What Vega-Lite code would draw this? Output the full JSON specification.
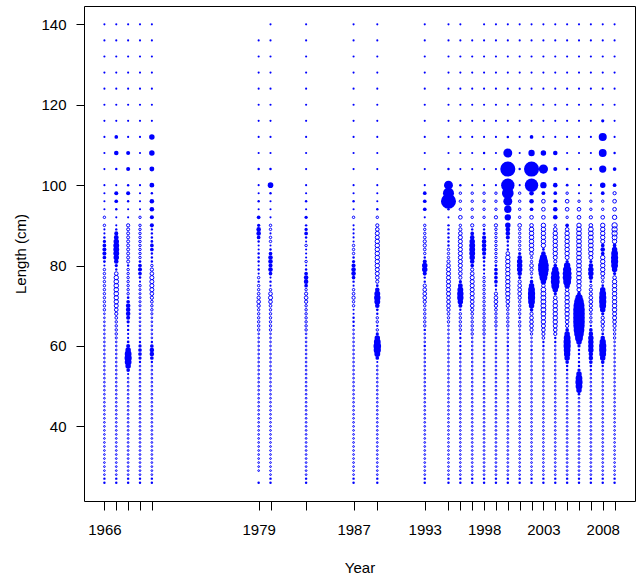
{
"$schema": "https://vega.github.io/schema/vega-lite/v6.json",
"width": 551, "height": 495,
"autosize": "none",
"padding": {"left": 84, "top": 6, "right": 2, "bottom": 81},
"background": "white",
"config": {"view": {"stroke": "black", "strokeWidth": 1}, "font": "Liberation Sans",
 "axis": {"domain": false, "grid": false, "tickColor": "black", "tickWidth": 1, "labelColor": "black", "titleColor": "black", "labelFont": "Liberation Sans", "titleFont": "Liberation Sans", "labelFontSize": 15, "titleFontSize": 15, "titleFontWeight": "normal"}},
"data": {"values": [
{"x":1966,"y":140,"r":2},{"x":1966,"y":136,"r":2},{"x":1966,"y":132,"r":2},{"x":1966,"y":128,"r":2},{"x":1966,"y":124,"r":2},{"x":1966,"y":120,"r":2},{"x":1966,"y":116,"r":2},{"x":1966,"y":112,"r":2},{"x":1966,"y":108,"r":2},{"x":1966,"y":104,"r":2},{"x":1966,"y":100,"r":2},
{"x":1966,"y":98,"r":2},{"x":1966,"y":96,"r":2},{"x":1966,"y":94,"r":2},{"x":1966,"y":92,"r":-3},
{"x":1966,"y":90,"r":-3},{"x":1966,"y":89,"r":2},{"x":1966,"y":88,"r":2},{"x":1966,"y":87,"r":3},{"x":1966,"y":86,"r":6},{"x":1966,"y":85,"r":8},{"x":1966,"y":84,"r":10},{"x":1966,"y":83,"r":10},{"x":1966,"y":82,"r":8},{"x":1966,"y":81,"r":4},{"x":1966,"y":80,"r":2},{"x":1966,"y":79,"r":-3},{"x":1966,"y":78,"r":-3},{"x":1966,"y":77,"r":-3},{"x":1966,"y":76,"r":-3},{"x":1966,"y":75,"r":-3},{"x":1966,"y":74,"r":-3},{"x":1966,"y":73,"r":-3},{"x":1966,"y":72,"r":-3},{"x":1966,"y":71,"r":-3},{"x":1966,"y":70,"r":-3},{"x":1966,"y":69,"r":-3},
{"x":1966,"y":68,"r":-1},{"x":1966,"y":67,"r":-1},{"x":1966,"y":66,"r":-1},{"x":1966,"y":65,"r":-1},{"x":1966,"y":64,"r":-1},{"x":1966,"y":63,"r":-1},{"x":1966,"y":62,"r":-1},{"x":1966,"y":61,"r":-1},{"x":1966,"y":60,"r":-1},{"x":1966,"y":59,"r":-1},{"x":1966,"y":58,"r":-1},{"x":1966,"y":57,"r":-1},{"x":1966,"y":56,"r":-1},{"x":1966,"y":55,"r":-1},{"x":1966,"y":54,"r":-1},{"x":1966,"y":53,"r":-1},{"x":1966,"y":52,"r":-1},{"x":1966,"y":51,"r":-1},{"x":1966,"y":50,"r":-1},{"x":1966,"y":49,"r":-1},{"x":1966,"y":48,"r":-1},{"x":1966,"y":47,"r":-1},{"x":1966,"y":46,"r":-1},{"x":1966,"y":45,"r":-1},{"x":1966,"y":44,"r":-1},{"x":1966,"y":43,"r":-1},{"x":1966,"y":42,"r":-1},{"x":1966,"y":41,"r":-1},{"x":1966,"y":40,"r":-1},{"x":1966,"y":39,"r":-1},{"x":1966,"y":38,"r":-1},{"x":1966,"y":37,"r":-1},{"x":1966,"y":36,"r":-1},{"x":1966,"y":35,"r":-1},{"x":1966,"y":34,"r":-1},{"x":1966,"y":33,"r":-1},{"x":1966,"y":32,"r":-1},{"x":1966,"y":31,"r":-1},{"x":1966,"y":30,"r":-1},{"x":1966,"y":29,"r":-1},{"x":1966,"y":28,"r":-1},{"x":1966,"y":27,"r":3},{"x":1966,"y":26,"r":3},

{"x":1967,"y":140,"r":2},{"x":1967,"y":136,"r":2},{"x":1967,"y":132,"r":2},{"x":1967,"y":128,"r":2},{"x":1967,"y":124,"r":2},{"x":1967,"y":120,"r":2},{"x":1967,"y":116,"r":2},{"x":1967,"y":112,"r":8},{"x":1967,"y":108,"r":13},{"x":1967,"y":104,"r":3},{"x":1967,"y":100,"r":2},
{"x":1967,"y":98,"r":10},{"x":1967,"y":96,"r":8},{"x":1967,"y":94,"r":3},{"x":1967,"y":92,"r":2},
{"x":1967,"y":90,"r":2},{"x":1967,"y":89,"r":3},{"x":1967,"y":88,"r":10},{"x":1967,"y":87,"r":15},{"x":1967,"y":86,"r":19},{"x":1967,"y":85,"r":22},{"x":1967,"y":84,"r":22},{"x":1967,"y":83,"r":22},{"x":1967,"y":82,"r":19},{"x":1967,"y":81,"r":13},{"x":1967,"y":80,"r":6},{"x":1967,"y":79,"r":3},{"x":1967,"y":78,"r":-8},{"x":1967,"y":77,"r":-12},{"x":1967,"y":76,"r":-13},{"x":1967,"y":75,"r":-13},{"x":1967,"y":74,"r":-13},{"x":1967,"y":73,"r":-13},{"x":1967,"y":72,"r":-12},{"x":1967,"y":71,"r":-12},{"x":1967,"y":70,"r":-10},{"x":1967,"y":69,"r":-8},{"x":1967,"y":68,"r":-6},{"x":1967,"y":67,"r":-4},{"x":1967,"y":66,"r":-3},{"x":1967,"y":65,"r":-3},{"x":1967,"y":64,"r":-3},{"x":1967,"y":63,"r":-3},{"x":1967,"y":62,"r":-2},
{"x":1967,"y":61,"r":-1},{"x":1967,"y":60,"r":-1},{"x":1967,"y":59,"r":-1},{"x":1967,"y":58,"r":-1},{"x":1967,"y":57,"r":-1},{"x":1967,"y":56,"r":-1},{"x":1967,"y":55,"r":-1},{"x":1967,"y":54,"r":-1},{"x":1967,"y":53,"r":-1},{"x":1967,"y":52,"r":-1},{"x":1967,"y":51,"r":-1},{"x":1967,"y":50,"r":-1},{"x":1967,"y":49,"r":-1},{"x":1967,"y":48,"r":-1},{"x":1967,"y":47,"r":-1},{"x":1967,"y":46,"r":-1},{"x":1967,"y":45,"r":-1},{"x":1967,"y":44,"r":-1},{"x":1967,"y":43,"r":-1},{"x":1967,"y":42,"r":-1},{"x":1967,"y":41,"r":-1},{"x":1967,"y":40,"r":-1},{"x":1967,"y":39,"r":-1},{"x":1967,"y":38,"r":-1},{"x":1967,"y":37,"r":-1},{"x":1967,"y":36,"r":-1},{"x":1967,"y":35,"r":-1},{"x":1967,"y":34,"r":-1},{"x":1967,"y":33,"r":-1},{"x":1967,"y":32,"r":-1},{"x":1967,"y":31,"r":-1},{"x":1967,"y":30,"r":-1},{"x":1967,"y":29,"r":-1},{"x":1967,"y":28,"r":-1},{"x":1967,"y":27,"r":3},{"x":1967,"y":26,"r":3},

{"x":1968,"y":140,"r":2},{"x":1968,"y":136,"r":2},{"x":1968,"y":132,"r":2},{"x":1968,"y":128,"r":2},{"x":1968,"y":124,"r":2},{"x":1968,"y":120,"r":2},{"x":1968,"y":116,"r":2},{"x":1968,"y":112,"r":2},{"x":1968,"y":108,"r":10},{"x":1968,"y":104,"r":10},{"x":1968,"y":100,"r":3},
{"x":1968,"y":98,"r":10},{"x":1968,"y":96,"r":3},{"x":1968,"y":94,"r":2},{"x":1968,"y":92,"r":2},
{"x":1968,"y":90,"r":-6},{"x":1968,"y":89,"r":-5},{"x":1968,"y":88,"r":-5},{"x":1968,"y":87,"r":-5},{"x":1968,"y":86,"r":-5},{"x":1968,"y":85,"r":-5},{"x":1968,"y":84,"r":-5},{"x":1968,"y":83,"r":-5},{"x":1968,"y":82,"r":-5},{"x":1968,"y":81,"r":-5},{"x":1968,"y":80,"r":3},{"x":1968,"y":79,"r":-3},{"x":1968,"y":78,"r":-3},{"x":1968,"y":77,"r":-3},{"x":1968,"y":76,"r":-3},{"x":1968,"y":75,"r":-3},{"x":1968,"y":74,"r":-3},{"x":1968,"y":73,"r":-3},{"x":1968,"y":72,"r":4},{"x":1968,"y":71,"r":8},{"x":1968,"y":70,"r":13},{"x":1968,"y":69,"r":13},{"x":1968,"y":68,"r":13},{"x":1968,"y":67,"r":10},{"x":1968,"y":66,"r":6},{"x":1968,"y":65,"r":3},{"x":1968,"y":64,"r":3},{"x":1968,"y":63,"r":2},{"x":1968,"y":62,"r":2},{"x":1968,"y":61,"r":4},{"x":1968,"y":60,"r":10},{"x":1968,"y":59,"r":19},{"x":1968,"y":58,"r":30},{"x":1968,"y":57,"r":34},{"x":1968,"y":56,"r":30},{"x":1968,"y":55,"r":19},{"x":1968,"y":54,"r":8},{"x":1968,"y":53,"r":2},
{"x":1968,"y":52,"r":-1},{"x":1968,"y":51,"r":-1},{"x":1968,"y":50,"r":-1},{"x":1968,"y":49,"r":-1},{"x":1968,"y":48,"r":-1},{"x":1968,"y":47,"r":-1},{"x":1968,"y":46,"r":-1},{"x":1968,"y":45,"r":-1},{"x":1968,"y":44,"r":-1},{"x":1968,"y":43,"r":-1},{"x":1968,"y":42,"r":-1},{"x":1968,"y":41,"r":-1},{"x":1968,"y":40,"r":-1},{"x":1968,"y":39,"r":-1},{"x":1968,"y":38,"r":-1},{"x":1968,"y":37,"r":-1},{"x":1968,"y":36,"r":-1},{"x":1968,"y":35,"r":-1},{"x":1968,"y":34,"r":-1},{"x":1968,"y":33,"r":-1},{"x":1968,"y":32,"r":-1},{"x":1968,"y":31,"r":-1},{"x":1968,"y":30,"r":-1},{"x":1968,"y":29,"r":-1},{"x":1968,"y":28,"r":-1},{"x":1968,"y":27,"r":3},{"x":1968,"y":26,"r":3},

{"x":1969,"y":140,"r":2},{"x":1969,"y":136,"r":2},{"x":1969,"y":132,"r":2},{"x":1969,"y":128,"r":2},{"x":1969,"y":124,"r":2},{"x":1969,"y":120,"r":2},{"x":1969,"y":116,"r":2},{"x":1969,"y":112,"r":2},{"x":1969,"y":108,"r":2},{"x":1969,"y":104,"r":2},{"x":1969,"y":100,"r":2},
{"x":1969,"y":98,"r":2},{"x":1969,"y":96,"r":2},{"x":1969,"y":94,"r":2},{"x":1969,"y":92,"r":-3},
{"x":1969,"y":90,"r":-3},{"x":1969,"y":89,"r":-3},{"x":1969,"y":88,"r":-3},{"x":1969,"y":87,"r":-3},{"x":1969,"y":86,"r":-3},{"x":1969,"y":85,"r":-3},{"x":1969,"y":84,"r":-3},{"x":1969,"y":83,"r":-3},{"x":1969,"y":82,"r":-3},{"x":1969,"y":81,"r":4},{"x":1969,"y":80,"r":8},{"x":1969,"y":79,"r":10},{"x":1969,"y":78,"r":8},{"x":1969,"y":77,"r":4},{"x":1969,"y":76,"r":2},{"x":1969,"y":75,"r":-3},{"x":1969,"y":74,"r":-2},{"x":1969,"y":73,"r":-2},{"x":1969,"y":72,"r":-2},{"x":1969,"y":71,"r":-2},{"x":1969,"y":70,"r":-2},{"x":1969,"y":69,"r":-1},{"x":1969,"y":68,"r":-1},{"x":1969,"y":67,"r":-1},{"x":1969,"y":66,"r":-1},{"x":1969,"y":65,"r":-1},{"x":1969,"y":64,"r":-1},{"x":1969,"y":63,"r":-1},{"x":1969,"y":62,"r":-1},{"x":1969,"y":61,"r":3},{"x":1969,"y":60,"r":6},{"x":1969,"y":59,"r":8},{"x":1969,"y":58,"r":8},{"x":1969,"y":57,"r":6},{"x":1969,"y":56,"r":3},
{"x":1969,"y":55,"r":-1},{"x":1969,"y":54,"r":-1},{"x":1969,"y":53,"r":-1},{"x":1969,"y":52,"r":-1},{"x":1969,"y":51,"r":-1},{"x":1969,"y":50,"r":-1},{"x":1969,"y":49,"r":-1},{"x":1969,"y":48,"r":-1},{"x":1969,"y":47,"r":-1},{"x":1969,"y":46,"r":-1},{"x":1969,"y":45,"r":-1},{"x":1969,"y":44,"r":-1},{"x":1969,"y":43,"r":-1},{"x":1969,"y":42,"r":-1},{"x":1969,"y":41,"r":-1},{"x":1969,"y":40,"r":-1},{"x":1969,"y":39,"r":-1},{"x":1969,"y":38,"r":-1},{"x":1969,"y":37,"r":-1},{"x":1969,"y":36,"r":-1},{"x":1969,"y":35,"r":-1},{"x":1969,"y":34,"r":-1},{"x":1969,"y":33,"r":-1},{"x":1969,"y":32,"r":-1},{"x":1969,"y":31,"r":-1},{"x":1969,"y":30,"r":-1},{"x":1969,"y":29,"r":-1},{"x":1969,"y":28,"r":-1},{"x":1969,"y":27,"r":3},{"x":1969,"y":26,"r":3},

{"x":1970,"y":140,"r":2},{"x":1970,"y":136,"r":2},{"x":1970,"y":132,"r":2},{"x":1970,"y":128,"r":2},{"x":1970,"y":124,"r":2},{"x":1970,"y":120,"r":2},{"x":1970,"y":116,"r":2},{"x":1970,"y":112,"r":19},{"x":1970,"y":108,"r":19},{"x":1970,"y":104,"r":15},{"x":1970,"y":100,"r":15},
{"x":1970,"y":98,"r":3},{"x":1970,"y":96,"r":13},{"x":1970,"y":94,"r":13},{"x":1970,"y":92,"r":10},
{"x":1970,"y":90,"r":10},{"x":1970,"y":89,"r":3},{"x":1970,"y":88,"r":3},{"x":1970,"y":87,"r":3},{"x":1970,"y":86,"r":4},{"x":1970,"y":85,"r":8},{"x":1970,"y":84,"r":8},{"x":1970,"y":83,"r":3},{"x":1970,"y":82,"r":3},{"x":1970,"y":81,"r":3},{"x":1970,"y":80,"r":-3},{"x":1970,"y":79,"r":-6},{"x":1970,"y":78,"r":-8},{"x":1970,"y":77,"r":-10},{"x":1970,"y":76,"r":-10},{"x":1970,"y":75,"r":-10},{"x":1970,"y":74,"r":-10},{"x":1970,"y":73,"r":-8},{"x":1970,"y":72,"r":-6},{"x":1970,"y":71,"r":-4},{"x":1970,"y":70,"r":-3},{"x":1970,"y":69,"r":-3},{"x":1970,"y":68,"r":-2},{"x":1970,"y":67,"r":-1},{"x":1970,"y":66,"r":-1},{"x":1970,"y":65,"r":-1},{"x":1970,"y":64,"r":-1},{"x":1970,"y":63,"r":-1},{"x":1970,"y":62,"r":-1},{"x":1970,"y":61,"r":3},{"x":1970,"y":60,"r":8},{"x":1970,"y":59,"r":13},{"x":1970,"y":58,"r":13},{"x":1970,"y":57,"r":8},{"x":1970,"y":56,"r":3},
{"x":1970,"y":55,"r":-1},{"x":1970,"y":54,"r":-1},{"x":1970,"y":53,"r":-1},{"x":1970,"y":52,"r":-1},{"x":1970,"y":51,"r":-1},{"x":1970,"y":50,"r":-1},{"x":1970,"y":49,"r":-1},{"x":1970,"y":48,"r":-1},{"x":1970,"y":47,"r":-1},{"x":1970,"y":46,"r":-1},{"x":1970,"y":45,"r":-1},{"x":1970,"y":44,"r":-1},{"x":1970,"y":43,"r":-1},{"x":1970,"y":42,"r":-1},{"x":1970,"y":41,"r":-1},{"x":1970,"y":40,"r":-1},{"x":1970,"y":39,"r":-1},{"x":1970,"y":38,"r":-1},{"x":1970,"y":37,"r":-1},{"x":1970,"y":36,"r":-1},{"x":1970,"y":35,"r":-1},{"x":1970,"y":34,"r":-1},{"x":1970,"y":33,"r":-1},{"x":1970,"y":32,"r":-1},{"x":1970,"y":31,"r":-1},{"x":1970,"y":30,"r":-1},{"x":1970,"y":29,"r":-1},{"x":1970,"y":28,"r":-1},{"x":1970,"y":27,"r":3},{"x":1970,"y":26,"r":3},

{"x":1979,"y":136,"r":2},{"x":1979,"y":132,"r":2},{"x":1979,"y":128,"r":2},{"x":1979,"y":124,"r":2},{"x":1979,"y":120,"r":2},{"x":1979,"y":116,"r":2},{"x":1979,"y":112,"r":2},{"x":1979,"y":108,"r":2},{"x":1979,"y":104,"r":3},{"x":1979,"y":100,"r":2},
{"x":1979,"y":98,"r":2},{"x":1979,"y":96,"r":3},{"x":1979,"y":94,"r":2},{"x":1979,"y":92,"r":8},
{"x":1979,"y":90,"r":6},{"x":1979,"y":89,"r":13},{"x":1979,"y":88,"r":13},{"x":1979,"y":87,"r":8},{"x":1979,"y":86,"r":3},{"x":1979,"y":85,"r":2},{"x":1979,"y":84,"r":2},{"x":1979,"y":83,"r":3},{"x":1979,"y":82,"r":3},{"x":1979,"y":81,"r":3},{"x":1979,"y":80,"r":2},{"x":1979,"y":79,"r":3},{"x":1979,"y":78,"r":2},{"x":1979,"y":77,"r":-3},{"x":1979,"y":76,"r":3},{"x":1979,"y":75,"r":-3},{"x":1979,"y":74,"r":-3},{"x":1979,"y":73,"r":-4},{"x":1979,"y":72,"r":-6},{"x":1979,"y":71,"r":-8},{"x":1979,"y":70,"r":-6},{"x":1979,"y":69,"r":-3},{"x":1979,"y":68,"r":-3},{"x":1979,"y":67,"r":-3},{"x":1979,"y":66,"r":-3},{"x":1979,"y":65,"r":-3},{"x":1979,"y":64,"r":-3},
{"x":1979,"y":63,"r":-1},{"x":1979,"y":62,"r":-1},{"x":1979,"y":61,"r":-1},{"x":1979,"y":60,"r":-1},{"x":1979,"y":59,"r":-1},{"x":1979,"y":58,"r":-1},{"x":1979,"y":57,"r":-1},{"x":1979,"y":56,"r":-1},{"x":1979,"y":55,"r":-1},{"x":1979,"y":54,"r":-1},{"x":1979,"y":53,"r":-1},{"x":1979,"y":52,"r":-1},{"x":1979,"y":51,"r":-1},{"x":1979,"y":50,"r":-1},{"x":1979,"y":49,"r":-1},{"x":1979,"y":48,"r":-1},{"x":1979,"y":47,"r":-1},{"x":1979,"y":46,"r":-1},{"x":1979,"y":45,"r":-1},{"x":1979,"y":44,"r":-1},{"x":1979,"y":43,"r":-1},{"x":1979,"y":42,"r":-1},{"x":1979,"y":41,"r":-1},{"x":1979,"y":40,"r":-1},{"x":1979,"y":39,"r":-1},{"x":1979,"y":38,"r":-1},{"x":1979,"y":37,"r":-1},{"x":1979,"y":36,"r":-1},{"x":1979,"y":35,"r":-1},{"x":1979,"y":34,"r":-1},{"x":1979,"y":33,"r":-1},{"x":1979,"y":32,"r":-1},{"x":1979,"y":31,"r":-1},{"x":1979,"y":30,"r":-1},{"x":1979,"y":29,"r":-1},{"x":1979,"y":26,"r":3},

{"x":1980,"y":140,"r":2},{"x":1980,"y":136,"r":2},{"x":1980,"y":132,"r":2},{"x":1980,"y":128,"r":2},{"x":1980,"y":124,"r":2},{"x":1980,"y":120,"r":2},{"x":1980,"y":116,"r":2},{"x":1980,"y":112,"r":2},{"x":1980,"y":108,"r":2},{"x":1980,"y":104,"r":3},{"x":1980,"y":100,"r":20},
{"x":1980,"y":98,"r":3},{"x":1980,"y":96,"r":2},{"x":1980,"y":94,"r":2},{"x":1980,"y":92,"r":2},
{"x":1980,"y":90,"r":-3},{"x":1980,"y":89,"r":-3},{"x":1980,"y":88,"r":2},{"x":1980,"y":87,"r":-3},{"x":1980,"y":86,"r":-3},{"x":1980,"y":85,"r":2},{"x":1980,"y":84,"r":3},{"x":1980,"y":83,"r":8},{"x":1980,"y":82,"r":13},{"x":1980,"y":81,"r":13},{"x":1980,"y":80,"r":10},{"x":1980,"y":79,"r":13},{"x":1980,"y":78,"r":8},{"x":1980,"y":77,"r":2},{"x":1980,"y":76,"r":3},{"x":1980,"y":75,"r":2},{"x":1980,"y":74,"r":-3},{"x":1980,"y":73,"r":-8},{"x":1980,"y":72,"r":-10},{"x":1980,"y":71,"r":-8},{"x":1980,"y":70,"r":-4},{"x":1980,"y":69,"r":-3},{"x":1980,"y":68,"r":-3},{"x":1980,"y":67,"r":-3},{"x":1980,"y":66,"r":-3},{"x":1980,"y":65,"r":-3},{"x":1980,"y":64,"r":-3},
{"x":1980,"y":63,"r":-1},{"x":1980,"y":62,"r":-1},{"x":1980,"y":61,"r":-1},{"x":1980,"y":60,"r":-1},{"x":1980,"y":59,"r":-1},{"x":1980,"y":58,"r":-1},{"x":1980,"y":57,"r":-1},{"x":1980,"y":56,"r":-1},{"x":1980,"y":55,"r":-1},{"x":1980,"y":54,"r":-1},{"x":1980,"y":53,"r":-1},{"x":1980,"y":52,"r":-1},{"x":1980,"y":51,"r":-1},{"x":1980,"y":50,"r":-1},{"x":1980,"y":49,"r":-1},{"x":1980,"y":48,"r":-1},{"x":1980,"y":47,"r":-1},{"x":1980,"y":46,"r":-1},{"x":1980,"y":45,"r":-1},{"x":1980,"y":44,"r":-1},{"x":1980,"y":43,"r":-1},{"x":1980,"y":42,"r":-1},{"x":1980,"y":41,"r":-1},{"x":1980,"y":40,"r":-1},{"x":1980,"y":39,"r":-1},{"x":1980,"y":38,"r":-1},{"x":1980,"y":37,"r":-1},{"x":1980,"y":36,"r":-1},{"x":1980,"y":35,"r":-1},{"x":1980,"y":34,"r":-1},{"x":1980,"y":33,"r":-1},{"x":1980,"y":32,"r":-1},{"x":1980,"y":31,"r":-1},{"x":1980,"y":30,"r":-1},{"x":1980,"y":29,"r":-1},{"x":1980,"y":28,"r":-1},{"x":1980,"y":27,"r":3},{"x":1980,"y":26,"r":3},

{"x":1983,"y":140,"r":2},{"x":1983,"y":136,"r":2},{"x":1983,"y":132,"r":2},{"x":1983,"y":128,"r":2},{"x":1983,"y":124,"r":2},{"x":1983,"y":120,"r":2},{"x":1983,"y":116,"r":2},{"x":1983,"y":112,"r":2},{"x":1983,"y":108,"r":2},{"x":1983,"y":104,"r":2},{"x":1983,"y":100,"r":2},
{"x":1983,"y":98,"r":2},{"x":1983,"y":96,"r":3},{"x":1983,"y":94,"r":2},{"x":1983,"y":92,"r":6},
{"x":1983,"y":90,"r":3},{"x":1983,"y":89,"r":6},{"x":1983,"y":88,"r":8},{"x":1983,"y":87,"r":3},{"x":1983,"y":86,"r":2},{"x":1983,"y":85,"r":-3},{"x":1983,"y":84,"r":2},{"x":1983,"y":83,"r":2},{"x":1983,"y":82,"r":2},{"x":1983,"y":81,"r":-3},{"x":1983,"y":80,"r":2},{"x":1983,"y":79,"r":3},{"x":1983,"y":78,"r":8},{"x":1983,"y":77,"r":13},{"x":1983,"y":76,"r":13},{"x":1983,"y":75,"r":8},{"x":1983,"y":74,"r":-3},{"x":1983,"y":73,"r":-6},{"x":1983,"y":72,"r":-8},{"x":1983,"y":71,"r":-6},{"x":1983,"y":70,"r":-3},{"x":1983,"y":69,"r":-3},{"x":1983,"y":68,"r":-3},{"x":1983,"y":67,"r":-3},{"x":1983,"y":66,"r":-3},{"x":1983,"y":65,"r":-3},{"x":1983,"y":64,"r":-3},
{"x":1983,"y":63,"r":-1},{"x":1983,"y":62,"r":-1},{"x":1983,"y":61,"r":-1},{"x":1983,"y":60,"r":-1},{"x":1983,"y":59,"r":-1},{"x":1983,"y":58,"r":-1},{"x":1983,"y":57,"r":-1},{"x":1983,"y":56,"r":-1},{"x":1983,"y":55,"r":-1},{"x":1983,"y":54,"r":-1},{"x":1983,"y":53,"r":-1},{"x":1983,"y":52,"r":-1},{"x":1983,"y":51,"r":-1},{"x":1983,"y":50,"r":-1},{"x":1983,"y":49,"r":-1},{"x":1983,"y":48,"r":-1},{"x":1983,"y":47,"r":-1},{"x":1983,"y":46,"r":-1},{"x":1983,"y":45,"r":-1},{"x":1983,"y":44,"r":-1},{"x":1983,"y":43,"r":-1},{"x":1983,"y":42,"r":-1},{"x":1983,"y":41,"r":-1},{"x":1983,"y":40,"r":-1},{"x":1983,"y":39,"r":-1},{"x":1983,"y":38,"r":-1},{"x":1983,"y":37,"r":-1},{"x":1983,"y":36,"r":-1},{"x":1983,"y":35,"r":-1},{"x":1983,"y":34,"r":-1},{"x":1983,"y":33,"r":-1},{"x":1983,"y":32,"r":-1},{"x":1983,"y":31,"r":-1},{"x":1983,"y":30,"r":-1},{"x":1983,"y":29,"r":-1},{"x":1983,"y":28,"r":-1},{"x":1983,"y":27,"r":3},{"x":1983,"y":26,"r":3},

{"x":1987,"y":140,"r":2},{"x":1987,"y":136,"r":2},{"x":1987,"y":132,"r":2},{"x":1987,"y":128,"r":2},{"x":1987,"y":124,"r":2},{"x":1987,"y":120,"r":2},{"x":1987,"y":116,"r":2},{"x":1987,"y":112,"r":2},{"x":1987,"y":108,"r":2},{"x":1987,"y":104,"r":2},{"x":1987,"y":100,"r":2},
{"x":1987,"y":98,"r":2},{"x":1987,"y":96,"r":3},{"x":1987,"y":94,"r":2},{"x":1987,"y":92,"r":-3},
{"x":1987,"y":90,"r":2},{"x":1987,"y":89,"r":2},{"x":1987,"y":88,"r":2},{"x":1987,"y":87,"r":2},{"x":1987,"y":86,"r":2},{"x":1987,"y":85,"r":-3},{"x":1987,"y":84,"r":-3},{"x":1987,"y":83,"r":-3},{"x":1987,"y":82,"r":3},{"x":1987,"y":81,"r":6},{"x":1987,"y":80,"r":10},{"x":1987,"y":79,"r":13},{"x":1987,"y":78,"r":13},{"x":1987,"y":77,"r":8},{"x":1987,"y":76,"r":3},{"x":1987,"y":75,"r":2},{"x":1987,"y":74,"r":-3},{"x":1987,"y":73,"r":-4},{"x":1987,"y":72,"r":-6},{"x":1987,"y":71,"r":-3},{"x":1987,"y":70,"r":-3},{"x":1987,"y":69,"r":2},{"x":1987,"y":68,"r":2},{"x":1987,"y":67,"r":3},{"x":1987,"y":66,"r":3},{"x":1987,"y":65,"r":3},
{"x":1987,"y":64,"r":-1},{"x":1987,"y":63,"r":-1},{"x":1987,"y":62,"r":-1},{"x":1987,"y":61,"r":-1},{"x":1987,"y":60,"r":-1},{"x":1987,"y":59,"r":-1},{"x":1987,"y":58,"r":-1},{"x":1987,"y":57,"r":-1},{"x":1987,"y":56,"r":-1},{"x":1987,"y":55,"r":-1},{"x":1987,"y":54,"r":-1},{"x":1987,"y":53,"r":-1},{"x":1987,"y":52,"r":-1},{"x":1987,"y":51,"r":-1},{"x":1987,"y":50,"r":-1},{"x":1987,"y":49,"r":-1},{"x":1987,"y":48,"r":-1},{"x":1987,"y":47,"r":-1},{"x":1987,"y":46,"r":-1},{"x":1987,"y":45,"r":-1},{"x":1987,"y":44,"r":-1},{"x":1987,"y":43,"r":-1},{"x":1987,"y":42,"r":-1},{"x":1987,"y":41,"r":-1},{"x":1987,"y":40,"r":-1},{"x":1987,"y":39,"r":-1},{"x":1987,"y":38,"r":-1},{"x":1987,"y":37,"r":-1},{"x":1987,"y":36,"r":-1},{"x":1987,"y":35,"r":-1},{"x":1987,"y":34,"r":-1},{"x":1987,"y":33,"r":-1},{"x":1987,"y":32,"r":-1},{"x":1987,"y":31,"r":-1},{"x":1987,"y":30,"r":-1},{"x":1987,"y":29,"r":-1},{"x":1987,"y":28,"r":-1},{"x":1987,"y":27,"r":3},{"x":1987,"y":26,"r":3},

{"x":1989,"y":140,"r":2},{"x":1989,"y":136,"r":2},{"x":1989,"y":132,"r":2},{"x":1989,"y":128,"r":2},{"x":1989,"y":124,"r":2},{"x":1989,"y":120,"r":2},{"x":1989,"y":116,"r":2},{"x":1989,"y":112,"r":2},{"x":1989,"y":108,"r":2},{"x":1989,"y":104,"r":2},{"x":1989,"y":100,"r":2},
{"x":1989,"y":98,"r":2},{"x":1989,"y":96,"r":2},{"x":1989,"y":94,"r":3},{"x":1989,"y":92,"r":-3},
{"x":1989,"y":90,"r":-6},{"x":1989,"y":89,"r":-8},{"x":1989,"y":88,"r":-10},{"x":1989,"y":87,"r":-10},{"x":1989,"y":86,"r":-12},{"x":1989,"y":85,"r":-12},{"x":1989,"y":84,"r":-12},{"x":1989,"y":83,"r":-12},{"x":1989,"y":82,"r":-12},{"x":1989,"y":81,"r":-12},{"x":1989,"y":80,"r":-12},{"x":1989,"y":79,"r":-10},{"x":1989,"y":78,"r":-10},{"x":1989,"y":77,"r":-8},{"x":1989,"y":76,"r":-6},{"x":1989,"y":75,"r":4},{"x":1989,"y":74,"r":13},{"x":1989,"y":73,"r":22},{"x":1989,"y":72,"r":26},{"x":1989,"y":71,"r":22},{"x":1989,"y":70,"r":13},{"x":1989,"y":69,"r":4},{"x":1989,"y":68,"r":3},{"x":1989,"y":67,"r":-3},{"x":1989,"y":66,"r":-3},{"x":1989,"y":65,"r":3},{"x":1989,"y":64,"r":-3},{"x":1989,"y":63,"r":6},{"x":1989,"y":62,"r":19},{"x":1989,"y":61,"r":30},{"x":1989,"y":60,"r":38},{"x":1989,"y":59,"r":34},{"x":1989,"y":58,"r":22},{"x":1989,"y":57,"r":8},{"x":1989,"y":56,"r":2},
{"x":1989,"y":55,"r":-1},{"x":1989,"y":54,"r":-1},{"x":1989,"y":53,"r":-1},{"x":1989,"y":52,"r":-1},{"x":1989,"y":51,"r":-1},{"x":1989,"y":50,"r":-1},{"x":1989,"y":49,"r":-1},{"x":1989,"y":48,"r":-1},{"x":1989,"y":47,"r":-1},{"x":1989,"y":46,"r":-1},{"x":1989,"y":45,"r":-1},{"x":1989,"y":44,"r":-1},{"x":1989,"y":43,"r":-1},{"x":1989,"y":42,"r":-1},{"x":1989,"y":41,"r":-1},{"x":1989,"y":40,"r":-1},{"x":1989,"y":39,"r":-1},{"x":1989,"y":38,"r":-1},{"x":1989,"y":37,"r":-1},{"x":1989,"y":36,"r":-1},{"x":1989,"y":35,"r":-1},{"x":1989,"y":34,"r":-1},{"x":1989,"y":33,"r":-1},{"x":1989,"y":32,"r":-1},{"x":1989,"y":31,"r":-1},{"x":1989,"y":30,"r":-1},{"x":1989,"y":29,"r":-1},{"x":1989,"y":28,"r":-1},{"x":1989,"y":27,"r":3},{"x":1989,"y":26,"r":3},

{"x":1993,"y":140,"r":2},{"x":1993,"y":136,"r":2},{"x":1993,"y":132,"r":2},{"x":1993,"y":128,"r":2},{"x":1993,"y":124,"r":2},{"x":1993,"y":120,"r":2},{"x":1993,"y":116,"r":2},{"x":1993,"y":112,"r":2},{"x":1993,"y":108,"r":2},{"x":1993,"y":104,"r":2},{"x":1993,"y":100,"r":2},
{"x":1993,"y":98,"r":8},{"x":1993,"y":96,"r":8},{"x":1993,"y":94,"r":8},{"x":1993,"y":92,"r":2},
{"x":1993,"y":90,"r":-3},{"x":1993,"y":89,"r":-3},{"x":1993,"y":88,"r":-3},{"x":1993,"y":87,"r":-4},{"x":1993,"y":86,"r":-6},{"x":1993,"y":85,"r":-6},{"x":1993,"y":84,"r":-4},{"x":1993,"y":83,"r":-3},{"x":1993,"y":82,"r":3},{"x":1993,"y":81,"r":10},{"x":1993,"y":80,"r":19},{"x":1993,"y":79,"r":19},{"x":1993,"y":78,"r":10},{"x":1993,"y":77,"r":3},{"x":1993,"y":76,"r":3},{"x":1993,"y":75,"r":-6},{"x":1993,"y":74,"r":-8},{"x":1993,"y":73,"r":-8},{"x":1993,"y":72,"r":-8},{"x":1993,"y":71,"r":-6},{"x":1993,"y":70,"r":-3},{"x":1993,"y":69,"r":-3},{"x":1993,"y":68,"r":-3},{"x":1993,"y":67,"r":-3},{"x":1993,"y":66,"r":-3},{"x":1993,"y":65,"r":-3},{"x":1993,"y":64,"r":3},{"x":1993,"y":63,"r":-1},{"x":1993,"y":62,"r":-1},{"x":1993,"y":61,"r":-1},{"x":1993,"y":60,"r":3},
{"x":1993,"y":59,"r":-1},{"x":1993,"y":58,"r":-1},{"x":1993,"y":57,"r":-1},{"x":1993,"y":56,"r":-1},{"x":1993,"y":55,"r":-1},{"x":1993,"y":54,"r":-1},{"x":1993,"y":53,"r":-1},{"x":1993,"y":52,"r":-1},{"x":1993,"y":51,"r":-1},{"x":1993,"y":50,"r":-1},{"x":1993,"y":49,"r":-1},{"x":1993,"y":48,"r":-1},{"x":1993,"y":47,"r":-1},{"x":1993,"y":46,"r":-1},{"x":1993,"y":45,"r":-1},{"x":1993,"y":44,"r":-1},{"x":1993,"y":43,"r":-1},{"x":1993,"y":42,"r":-1},{"x":1993,"y":41,"r":-1},{"x":1993,"y":40,"r":-1},{"x":1993,"y":39,"r":-1},{"x":1993,"y":38,"r":-1},{"x":1993,"y":37,"r":-1},{"x":1993,"y":36,"r":-1},{"x":1993,"y":35,"r":-1},{"x":1993,"y":34,"r":-1},{"x":1993,"y":33,"r":-1},{"x":1993,"y":32,"r":-1},{"x":1993,"y":31,"r":-1},{"x":1993,"y":30,"r":-1},{"x":1993,"y":29,"r":-1},{"x":1993,"y":28,"r":-1},{"x":1993,"y":27,"r":3},{"x":1993,"y":26,"r":3},

{"x":1995,"y":140,"r":2},{"x":1995,"y":136,"r":2},{"x":1995,"y":132,"r":2},{"x":1995,"y":128,"r":2},{"x":1995,"y":124,"r":2},{"x":1995,"y":120,"r":2},{"x":1995,"y":116,"r":2},{"x":1995,"y":112,"r":2},{"x":1995,"y":108,"r":2},{"x":1995,"y":104,"r":3},{"x":1995,"y":100,"r":52},
{"x":1995,"y":98,"r":80},{"x":1995,"y":96,"r":150},{"x":1995,"y":94,"r":3},{"x":1995,"y":92,"r":2},
{"x":1995,"y":90,"r":3},{"x":1995,"y":89,"r":3},{"x":1995,"y":88,"r":3},{"x":1995,"y":87,"r":3},{"x":1995,"y":86,"r":3},{"x":1995,"y":85,"r":3},{"x":1995,"y":84,"r":-3},{"x":1995,"y":83,"r":-3},{"x":1995,"y":82,"r":-3},{"x":1995,"y":81,"r":-6},{"x":1995,"y":80,"r":-8},{"x":1995,"y":79,"r":-10},{"x":1995,"y":78,"r":-10},{"x":1995,"y":77,"r":-10},{"x":1995,"y":76,"r":-10},{"x":1995,"y":75,"r":-10},{"x":1995,"y":74,"r":-10},{"x":1995,"y":73,"r":-10},{"x":1995,"y":72,"r":-8},{"x":1995,"y":71,"r":-8},{"x":1995,"y":70,"r":-8},{"x":1995,"y":69,"r":-6},{"x":1995,"y":68,"r":-4},{"x":1995,"y":67,"r":-3},{"x":1995,"y":66,"r":-3},
{"x":1995,"y":65,"r":-1},{"x":1995,"y":64,"r":-1},{"x":1995,"y":63,"r":-1},{"x":1995,"y":62,"r":-1},{"x":1995,"y":61,"r":-1},{"x":1995,"y":60,"r":-1},{"x":1995,"y":59,"r":-1},{"x":1995,"y":58,"r":-1},{"x":1995,"y":57,"r":-1},{"x":1995,"y":56,"r":-1},{"x":1995,"y":55,"r":-1},{"x":1995,"y":54,"r":-1},{"x":1995,"y":53,"r":-1},{"x":1995,"y":52,"r":-1},{"x":1995,"y":51,"r":-1},{"x":1995,"y":50,"r":-1},{"x":1995,"y":49,"r":-1},{"x":1995,"y":48,"r":-1},{"x":1995,"y":47,"r":-1},{"x":1995,"y":46,"r":-1},{"x":1995,"y":45,"r":-1},{"x":1995,"y":44,"r":-1},{"x":1995,"y":43,"r":-1},{"x":1995,"y":42,"r":-1},{"x":1995,"y":41,"r":-1},{"x":1995,"y":40,"r":-1},{"x":1995,"y":39,"r":-1},{"x":1995,"y":38,"r":-1},{"x":1995,"y":37,"r":-1},{"x":1995,"y":36,"r":-1},{"x":1995,"y":35,"r":-1},{"x":1995,"y":34,"r":-1},{"x":1995,"y":33,"r":-1},{"x":1995,"y":32,"r":-1},{"x":1995,"y":31,"r":-1},{"x":1995,"y":30,"r":-1},{"x":1995,"y":29,"r":-1},{"x":1995,"y":28,"r":-1},{"x":1995,"y":27,"r":3},{"x":1995,"y":26,"r":3},

{"x":1996,"y":140,"r":2},{"x":1996,"y":136,"r":2},{"x":1996,"y":132,"r":2},{"x":1996,"y":128,"r":2},{"x":1996,"y":124,"r":2},{"x":1996,"y":120,"r":2},{"x":1996,"y":116,"r":2},{"x":1996,"y":112,"r":2},{"x":1996,"y":108,"r":2},{"x":1996,"y":104,"r":2},{"x":1996,"y":100,"r":3},
{"x":1996,"y":98,"r":-3},{"x":1996,"y":96,"r":-3},{"x":1996,"y":94,"r":-3},{"x":1996,"y":92,"r":-8},
{"x":1996,"y":90,"r":-3},{"x":1996,"y":89,"r":-6},{"x":1996,"y":88,"r":-8},{"x":1996,"y":87,"r":-10},{"x":1996,"y":86,"r":-10},{"x":1996,"y":85,"r":-10},{"x":1996,"y":84,"r":-10},{"x":1996,"y":83,"r":-10},{"x":1996,"y":82,"r":-10},{"x":1996,"y":81,"r":-10},{"x":1996,"y":80,"r":-10},{"x":1996,"y":79,"r":-8},{"x":1996,"y":78,"r":-8},{"x":1996,"y":77,"r":-6},{"x":1996,"y":76,"r":6},{"x":1996,"y":75,"r":15},{"x":1996,"y":74,"r":22},{"x":1996,"y":73,"r":26},{"x":1996,"y":72,"r":26},{"x":1996,"y":71,"r":19},{"x":1996,"y":70,"r":10},{"x":1996,"y":69,"r":3},{"x":1996,"y":68,"r":-3},{"x":1996,"y":67,"r":-3},{"x":1996,"y":66,"r":-3},{"x":1996,"y":65,"r":-3},{"x":1996,"y":64,"r":-3},{"x":1996,"y":63,"r":2},{"x":1996,"y":62,"r":3},{"x":1996,"y":61,"r":2},{"x":1996,"y":60,"r":3},{"x":1996,"y":59,"r":2},{"x":1996,"y":58,"r":3},
{"x":1996,"y":57,"r":-1},{"x":1996,"y":56,"r":-1},{"x":1996,"y":55,"r":-1},{"x":1996,"y":54,"r":-1},{"x":1996,"y":53,"r":-1},{"x":1996,"y":52,"r":-1},{"x":1996,"y":51,"r":-1},{"x":1996,"y":50,"r":-1},{"x":1996,"y":49,"r":-1},{"x":1996,"y":48,"r":-1},{"x":1996,"y":47,"r":-1},{"x":1996,"y":46,"r":-1},{"x":1996,"y":45,"r":-1},{"x":1996,"y":44,"r":-1},{"x":1996,"y":43,"r":-1},{"x":1996,"y":42,"r":-1},{"x":1996,"y":41,"r":-1},{"x":1996,"y":40,"r":-1},{"x":1996,"y":39,"r":-1},{"x":1996,"y":38,"r":-1},{"x":1996,"y":37,"r":-1},{"x":1996,"y":36,"r":-1},{"x":1996,"y":35,"r":-1},{"x":1996,"y":34,"r":-1},{"x":1996,"y":33,"r":-1},{"x":1996,"y":32,"r":-1},{"x":1996,"y":31,"r":-1},{"x":1996,"y":30,"r":-1},{"x":1996,"y":29,"r":-1},{"x":1996,"y":28,"r":-1},{"x":1996,"y":27,"r":3},{"x":1996,"y":26,"r":3},

{"x":1997,"y":136,"r":2},{"x":1997,"y":132,"r":2},{"x":1997,"y":128,"r":2},{"x":1997,"y":124,"r":2},{"x":1997,"y":120,"r":2},{"x":1997,"y":116,"r":2},{"x":1997,"y":112,"r":2},{"x":1997,"y":108,"r":2},{"x":1997,"y":104,"r":2},{"x":1997,"y":100,"r":2},
{"x":1997,"y":98,"r":-3},{"x":1997,"y":96,"r":-3},{"x":1997,"y":94,"r":-3},{"x":1997,"y":92,"r":-3},
{"x":1997,"y":90,"r":-6},{"x":1997,"y":89,"r":3},{"x":1997,"y":88,"r":8},{"x":1997,"y":87,"r":13},{"x":1997,"y":86,"r":19},{"x":1997,"y":85,"r":22},{"x":1997,"y":84,"r":22},{"x":1997,"y":83,"r":22},{"x":1997,"y":82,"r":19},{"x":1997,"y":81,"r":13},{"x":1997,"y":80,"r":8},{"x":1997,"y":79,"r":-6},{"x":1997,"y":78,"r":-8},{"x":1997,"y":77,"r":-10},{"x":1997,"y":76,"r":-10},{"x":1997,"y":75,"r":-10},{"x":1997,"y":74,"r":-10},{"x":1997,"y":73,"r":-10},{"x":1997,"y":72,"r":-10},{"x":1997,"y":71,"r":-8},{"x":1997,"y":70,"r":-8},{"x":1997,"y":69,"r":-6},{"x":1997,"y":68,"r":-4},{"x":1997,"y":67,"r":-3},{"x":1997,"y":66,"r":-3},{"x":1997,"y":65,"r":-3},{"x":1997,"y":64,"r":-3},{"x":1997,"y":63,"r":-3},
{"x":1997,"y":62,"r":-1},{"x":1997,"y":61,"r":-1},{"x":1997,"y":60,"r":-1},{"x":1997,"y":59,"r":-1},{"x":1997,"y":58,"r":-1},{"x":1997,"y":57,"r":-1},{"x":1997,"y":56,"r":-1},{"x":1997,"y":55,"r":-1},{"x":1997,"y":54,"r":-1},{"x":1997,"y":53,"r":-1},{"x":1997,"y":52,"r":-1},{"x":1997,"y":51,"r":-1},{"x":1997,"y":50,"r":-1},{"x":1997,"y":49,"r":-1},{"x":1997,"y":48,"r":-1},{"x":1997,"y":47,"r":-1},{"x":1997,"y":46,"r":-1},{"x":1997,"y":45,"r":-1},{"x":1997,"y":44,"r":-1},{"x":1997,"y":43,"r":-1},{"x":1997,"y":42,"r":-1},{"x":1997,"y":41,"r":-1},{"x":1997,"y":40,"r":-1},{"x":1997,"y":39,"r":-1},{"x":1997,"y":38,"r":-1},{"x":1997,"y":37,"r":-1},{"x":1997,"y":36,"r":-1},{"x":1997,"y":35,"r":-1},{"x":1997,"y":34,"r":-1},{"x":1997,"y":33,"r":-1},{"x":1997,"y":32,"r":-1},{"x":1997,"y":31,"r":-1},{"x":1997,"y":30,"r":-1},{"x":1997,"y":29,"r":-1},{"x":1997,"y":28,"r":-1},{"x":1997,"y":27,"r":3},{"x":1997,"y":26,"r":3},

{"x":1998,"y":140,"r":2},{"x":1998,"y":136,"r":2},{"x":1998,"y":132,"r":2},{"x":1998,"y":128,"r":2},{"x":1998,"y":124,"r":2},{"x":1998,"y":120,"r":2},{"x":1998,"y":116,"r":2},{"x":1998,"y":112,"r":2},{"x":1998,"y":108,"r":3},{"x":1998,"y":104,"r":2},{"x":1998,"y":100,"r":2},
{"x":1998,"y":98,"r":-3},{"x":1998,"y":96,"r":-3},{"x":1998,"y":94,"r":-3},{"x":1998,"y":92,"r":-3},
{"x":1998,"y":90,"r":-3},{"x":1998,"y":89,"r":3},{"x":1998,"y":88,"r":6},{"x":1998,"y":87,"r":10},{"x":1998,"y":86,"r":13},{"x":1998,"y":85,"r":13},{"x":1998,"y":84,"r":13},{"x":1998,"y":83,"r":10},{"x":1998,"y":82,"r":6},{"x":1998,"y":81,"r":3},{"x":1998,"y":80,"r":3},{"x":1998,"y":79,"r":3},{"x":1998,"y":78,"r":2},{"x":1998,"y":77,"r":-3},{"x":1998,"y":76,"r":-3},{"x":1998,"y":75,"r":-3},{"x":1998,"y":74,"r":-3},{"x":1998,"y":73,"r":-3},{"x":1998,"y":72,"r":-3},{"x":1998,"y":71,"r":-3},{"x":1998,"y":70,"r":-3},{"x":1998,"y":69,"r":-3},{"x":1998,"y":68,"r":-3},{"x":1998,"y":67,"r":-3},{"x":1998,"y":66,"r":-3},{"x":1998,"y":65,"r":-3},{"x":1998,"y":64,"r":-3},{"x":1998,"y":63,"r":-3},
{"x":1998,"y":62,"r":-1},{"x":1998,"y":61,"r":-1},{"x":1998,"y":60,"r":-1},{"x":1998,"y":59,"r":-1},{"x":1998,"y":58,"r":-1},{"x":1998,"y":57,"r":-1},{"x":1998,"y":56,"r":-1},{"x":1998,"y":55,"r":-1},{"x":1998,"y":54,"r":-1},{"x":1998,"y":53,"r":-1},{"x":1998,"y":52,"r":-1},{"x":1998,"y":51,"r":-1},{"x":1998,"y":50,"r":-1},{"x":1998,"y":49,"r":-1},{"x":1998,"y":48,"r":-1},{"x":1998,"y":47,"r":-1},{"x":1998,"y":46,"r":-1},{"x":1998,"y":45,"r":-1},{"x":1998,"y":44,"r":-1},{"x":1998,"y":43,"r":-1},{"x":1998,"y":42,"r":-1},{"x":1998,"y":41,"r":-1},{"x":1998,"y":40,"r":-1},{"x":1998,"y":39,"r":-1},{"x":1998,"y":38,"r":-1},{"x":1998,"y":37,"r":-1},{"x":1998,"y":36,"r":-1},{"x":1998,"y":35,"r":-1},{"x":1998,"y":34,"r":-1},{"x":1998,"y":33,"r":-1},{"x":1998,"y":32,"r":-1},{"x":1998,"y":31,"r":-1},{"x":1998,"y":30,"r":-1},{"x":1998,"y":29,"r":-1},{"x":1998,"y":28,"r":-1},{"x":1998,"y":27,"r":3},{"x":1998,"y":26,"r":3},

{"x":1999,"y":140,"r":2},{"x":1999,"y":136,"r":2},{"x":1999,"y":132,"r":2},{"x":1999,"y":128,"r":2},{"x":1999,"y":124,"r":2},{"x":1999,"y":120,"r":2},{"x":1999,"y":116,"r":2},{"x":1999,"y":112,"r":2},{"x":1999,"y":108,"r":2},{"x":1999,"y":104,"r":2},{"x":1999,"y":100,"r":2},
{"x":1999,"y":98,"r":-3},{"x":1999,"y":96,"r":-3},{"x":1999,"y":94,"r":-3},{"x":1999,"y":92,"r":-6},
{"x":1999,"y":90,"r":-6},{"x":1999,"y":89,"r":-3},{"x":1999,"y":88,"r":-3},{"x":1999,"y":87,"r":-3},{"x":1999,"y":86,"r":-3},{"x":1999,"y":85,"r":-3},{"x":1999,"y":84,"r":-3},{"x":1999,"y":83,"r":-3},{"x":1999,"y":82,"r":-3},{"x":1999,"y":81,"r":-3},{"x":1999,"y":80,"r":4},{"x":1999,"y":79,"r":8},{"x":1999,"y":78,"r":8},{"x":1999,"y":77,"r":8},{"x":1999,"y":76,"r":8},{"x":1999,"y":75,"r":4},{"x":1999,"y":74,"r":2},{"x":1999,"y":73,"r":-6},{"x":1999,"y":72,"r":-8},{"x":1999,"y":71,"r":-8},{"x":1999,"y":70,"r":-6},{"x":1999,"y":69,"r":-4},{"x":1999,"y":68,"r":-3},{"x":1999,"y":67,"r":-3},{"x":1999,"y":66,"r":-3},{"x":1999,"y":65,"r":-3},
{"x":1999,"y":64,"r":-1},{"x":1999,"y":63,"r":-1},{"x":1999,"y":62,"r":-1},{"x":1999,"y":61,"r":-1},{"x":1999,"y":60,"r":-1},{"x":1999,"y":59,"r":-1},{"x":1999,"y":58,"r":-1},{"x":1999,"y":57,"r":-1},{"x":1999,"y":56,"r":-1},{"x":1999,"y":55,"r":-1},{"x":1999,"y":54,"r":-1},{"x":1999,"y":53,"r":-1},{"x":1999,"y":52,"r":-1},{"x":1999,"y":51,"r":-1},{"x":1999,"y":50,"r":-1},{"x":1999,"y":49,"r":-1},{"x":1999,"y":48,"r":-1},{"x":1999,"y":47,"r":-1},{"x":1999,"y":46,"r":-1},{"x":1999,"y":45,"r":-1},{"x":1999,"y":44,"r":-1},{"x":1999,"y":43,"r":-1},{"x":1999,"y":42,"r":-1},{"x":1999,"y":41,"r":-1},{"x":1999,"y":40,"r":-1},{"x":1999,"y":39,"r":-1},{"x":1999,"y":38,"r":-1},{"x":1999,"y":37,"r":-1},{"x":1999,"y":36,"r":-1},{"x":1999,"y":35,"r":-1},{"x":1999,"y":34,"r":-1},{"x":1999,"y":33,"r":-1},{"x":1999,"y":32,"r":-1},{"x":1999,"y":31,"r":-1},{"x":1999,"y":30,"r":-1},{"x":1999,"y":29,"r":-1},{"x":1999,"y":28,"r":-1},{"x":1999,"y":27,"r":3},{"x":1999,"y":26,"r":3},

{"x":2000,"y":140,"r":2},{"x":2000,"y":136,"r":2},{"x":2000,"y":132,"r":2},{"x":2000,"y":128,"r":2},{"x":2000,"y":124,"r":2},{"x":2000,"y":120,"r":2},{"x":2000,"y":116,"r":2},{"x":2000,"y":112,"r":3},{"x":2000,"y":108,"r":52},{"x":2000,"y":104,"r":150},{"x":2000,"y":100,"r":118},
{"x":2000,"y":98,"r":90},{"x":2000,"y":96,"r":52},{"x":2000,"y":94,"r":35},{"x":2000,"y":92,"r":26},
{"x":2000,"y":90,"r":19},{"x":2000,"y":89,"r":13},{"x":2000,"y":88,"r":13},{"x":2000,"y":87,"r":10},{"x":2000,"y":86,"r":3},{"x":2000,"y":85,"r":3},{"x":2000,"y":84,"r":3},{"x":2000,"y":83,"r":-8},{"x":2000,"y":82,"r":-12},{"x":2000,"y":81,"r":-12},{"x":2000,"y":80,"r":-12},{"x":2000,"y":79,"r":-12},{"x":2000,"y":78,"r":-12},{"x":2000,"y":77,"r":-12},{"x":2000,"y":76,"r":-12},{"x":2000,"y":75,"r":-12},{"x":2000,"y":74,"r":-12},{"x":2000,"y":73,"r":-12},{"x":2000,"y":72,"r":-10},{"x":2000,"y":71,"r":-8},{"x":2000,"y":70,"r":-6},{"x":2000,"y":69,"r":-3},{"x":2000,"y":68,"r":-3},{"x":2000,"y":67,"r":-3},{"x":2000,"y":66,"r":-3},{"x":2000,"y":65,"r":-3},{"x":2000,"y":64,"r":-1},{"x":2000,"y":63,"r":-1},{"x":2000,"y":62,"r":-1},{"x":2000,"y":61,"r":-1},{"x":2000,"y":60,"r":3},
{"x":2000,"y":59,"r":-1},{"x":2000,"y":58,"r":-1},{"x":2000,"y":57,"r":-1},{"x":2000,"y":56,"r":-1},{"x":2000,"y":55,"r":-1},{"x":2000,"y":54,"r":-1},{"x":2000,"y":53,"r":-1},{"x":2000,"y":52,"r":-1},{"x":2000,"y":51,"r":-1},{"x":2000,"y":50,"r":-1},{"x":2000,"y":49,"r":-1},{"x":2000,"y":48,"r":-1},{"x":2000,"y":47,"r":-1},{"x":2000,"y":46,"r":-1},{"x":2000,"y":45,"r":-1},{"x":2000,"y":44,"r":-1},{"x":2000,"y":43,"r":-1},{"x":2000,"y":42,"r":-1},{"x":2000,"y":41,"r":-1},{"x":2000,"y":40,"r":-1},{"x":2000,"y":39,"r":-1},{"x":2000,"y":38,"r":-1},{"x":2000,"y":37,"r":-1},{"x":2000,"y":36,"r":-1},{"x":2000,"y":35,"r":-1},{"x":2000,"y":34,"r":-1},{"x":2000,"y":33,"r":-1},{"x":2000,"y":32,"r":-1},{"x":2000,"y":31,"r":-1},{"x":2000,"y":30,"r":-1},{"x":2000,"y":29,"r":-1},{"x":2000,"y":28,"r":-1},{"x":2000,"y":27,"r":3},{"x":2000,"y":26,"r":3},

{"x":2001,"y":140,"r":2},{"x":2001,"y":136,"r":2},{"x":2001,"y":132,"r":2},{"x":2001,"y":128,"r":2},{"x":2001,"y":124,"r":2},{"x":2001,"y":120,"r":2},{"x":2001,"y":116,"r":2},{"x":2001,"y":112,"r":2},{"x":2001,"y":108,"r":2},{"x":2001,"y":104,"r":3},{"x":2001,"y":100,"r":2},
{"x":2001,"y":98,"r":-3},{"x":2001,"y":96,"r":-3},{"x":2001,"y":94,"r":-3},{"x":2001,"y":92,"r":-3},
{"x":2001,"y":90,"r":-8},{"x":2001,"y":89,"r":-3},{"x":2001,"y":88,"r":-3},{"x":2001,"y":87,"r":-3},{"x":2001,"y":86,"r":-3},{"x":2001,"y":85,"r":-3},{"x":2001,"y":84,"r":-3},{"x":2001,"y":83,"r":6},{"x":2001,"y":82,"r":13},{"x":2001,"y":81,"r":19},{"x":2001,"y":80,"r":19},{"x":2001,"y":79,"r":19},{"x":2001,"y":78,"r":13},{"x":2001,"y":77,"r":6},{"x":2001,"y":76,"r":-6},{"x":2001,"y":75,"r":-8},{"x":2001,"y":74,"r":-8},{"x":2001,"y":73,"r":-8},{"x":2001,"y":72,"r":-6},{"x":2001,"y":71,"r":-3},{"x":2001,"y":70,"r":-3},{"x":2001,"y":69,"r":-3},{"x":2001,"y":68,"r":-3},{"x":2001,"y":67,"r":3},{"x":2001,"y":66,"r":-3},{"x":2001,"y":65,"r":-3},
{"x":2001,"y":64,"r":-1},{"x":2001,"y":63,"r":-1},{"x":2001,"y":62,"r":-1},{"x":2001,"y":61,"r":-1},{"x":2001,"y":60,"r":-1},{"x":2001,"y":59,"r":-1},{"x":2001,"y":58,"r":-1},{"x":2001,"y":57,"r":-1},{"x":2001,"y":56,"r":-1},{"x":2001,"y":55,"r":-1},{"x":2001,"y":54,"r":-1},{"x":2001,"y":53,"r":-1},{"x":2001,"y":52,"r":-1},{"x":2001,"y":51,"r":-1},{"x":2001,"y":50,"r":-1},{"x":2001,"y":49,"r":-1},{"x":2001,"y":48,"r":-1},{"x":2001,"y":47,"r":-1},{"x":2001,"y":46,"r":-1},{"x":2001,"y":45,"r":-1},{"x":2001,"y":44,"r":-1},{"x":2001,"y":43,"r":-1},{"x":2001,"y":42,"r":-1},{"x":2001,"y":41,"r":-1},{"x":2001,"y":40,"r":-1},{"x":2001,"y":39,"r":-1},{"x":2001,"y":38,"r":-1},{"x":2001,"y":37,"r":-1},{"x":2001,"y":36,"r":-1},{"x":2001,"y":35,"r":-1},{"x":2001,"y":34,"r":-1},{"x":2001,"y":33,"r":-1},{"x":2001,"y":32,"r":-1},{"x":2001,"y":31,"r":-1},{"x":2001,"y":30,"r":-1},{"x":2001,"y":29,"r":-1},{"x":2001,"y":28,"r":-1},{"x":2001,"y":27,"r":3},{"x":2001,"y":26,"r":3},

{"x":2002,"y":140,"r":2},{"x":2002,"y":136,"r":2},{"x":2002,"y":132,"r":2},{"x":2002,"y":128,"r":2},{"x":2002,"y":124,"r":2},{"x":2002,"y":120,"r":2},{"x":2002,"y":116,"r":2},{"x":2002,"y":112,"r":8},{"x":2002,"y":108,"r":26},{"x":2002,"y":104,"r":150},{"x":2002,"y":100,"r":118},
{"x":2002,"y":98,"r":13},{"x":2002,"y":96,"r":13},{"x":2002,"y":94,"r":8},{"x":2002,"y":92,"r":-8},
{"x":2002,"y":90,"r":-8},{"x":2002,"y":89,"r":-12},{"x":2002,"y":88,"r":-12},{"x":2002,"y":87,"r":-12},{"x":2002,"y":86,"r":-12},{"x":2002,"y":85,"r":-12},{"x":2002,"y":84,"r":-12},{"x":2002,"y":83,"r":-8},{"x":2002,"y":82,"r":-3},{"x":2002,"y":81,"r":-3},{"x":2002,"y":80,"r":-8},{"x":2002,"y":79,"r":-6},{"x":2002,"y":78,"r":-3},{"x":2002,"y":77,"r":3},{"x":2002,"y":76,"r":8},{"x":2002,"y":75,"r":19},{"x":2002,"y":74,"r":30},{"x":2002,"y":73,"r":34},{"x":2002,"y":72,"r":34},{"x":2002,"y":71,"r":30},{"x":2002,"y":70,"r":19},{"x":2002,"y":69,"r":8},{"x":2002,"y":68,"r":-6},{"x":2002,"y":67,"r":-8},{"x":2002,"y":66,"r":-8},{"x":2002,"y":65,"r":-8},{"x":2002,"y":64,"r":-6},{"x":2002,"y":63,"r":-3},{"x":2002,"y":62,"r":-1},{"x":2002,"y":61,"r":-1},{"x":2002,"y":60,"r":-1},{"x":2002,"y":59,"r":3},
{"x":2002,"y":58,"r":-1},{"x":2002,"y":57,"r":-1},{"x":2002,"y":56,"r":-1},{"x":2002,"y":55,"r":-1},{"x":2002,"y":54,"r":-1},{"x":2002,"y":53,"r":-1},{"x":2002,"y":52,"r":-1},{"x":2002,"y":51,"r":-1},{"x":2002,"y":50,"r":-1},{"x":2002,"y":49,"r":-1},{"x":2002,"y":48,"r":-1},{"x":2002,"y":47,"r":-1},{"x":2002,"y":46,"r":-1},{"x":2002,"y":45,"r":-1},{"x":2002,"y":44,"r":-1},{"x":2002,"y":43,"r":-1},{"x":2002,"y":42,"r":-1},{"x":2002,"y":41,"r":-1},{"x":2002,"y":40,"r":-1},{"x":2002,"y":39,"r":-1},{"x":2002,"y":38,"r":-1},{"x":2002,"y":37,"r":-1},{"x":2002,"y":36,"r":-1},{"x":2002,"y":35,"r":-1},{"x":2002,"y":34,"r":-1},{"x":2002,"y":33,"r":-1},{"x":2002,"y":32,"r":-1},{"x":2002,"y":31,"r":-1},{"x":2002,"y":30,"r":-1},{"x":2002,"y":29,"r":-1},{"x":2002,"y":28,"r":-1},{"x":2002,"y":27,"r":3},{"x":2002,"y":26,"r":3},

{"x":2003,"y":140,"r":2},{"x":2003,"y":136,"r":2},{"x":2003,"y":132,"r":2},{"x":2003,"y":128,"r":2},{"x":2003,"y":124,"r":2},{"x":2003,"y":120,"r":2},{"x":2003,"y":116,"r":2},{"x":2003,"y":112,"r":2},{"x":2003,"y":108,"r":19},{"x":2003,"y":104,"r":55},{"x":2003,"y":100,"r":26},
{"x":2003,"y":98,"r":8},{"x":2003,"y":96,"r":-8},{"x":2003,"y":94,"r":-8},{"x":2003,"y":92,"r":-8},
{"x":2003,"y":90,"r":-12},{"x":2003,"y":89,"r":-12},{"x":2003,"y":88,"r":-12},{"x":2003,"y":87,"r":-12},{"x":2003,"y":86,"r":-12},{"x":2003,"y":85,"r":-12},{"x":2003,"y":84,"r":4},{"x":2003,"y":83,"r":13},{"x":2003,"y":82,"r":34},{"x":2003,"y":81,"r":55},{"x":2003,"y":80,"r":76},{"x":2003,"y":79,"r":76},{"x":2003,"y":78,"r":60},{"x":2003,"y":77,"r":40},{"x":2003,"y":76,"r":19},{"x":2003,"y":75,"r":-8},{"x":2003,"y":74,"r":-14},{"x":2003,"y":73,"r":-15},{"x":2003,"y":72,"r":-15},{"x":2003,"y":71,"r":-15},{"x":2003,"y":70,"r":-15},{"x":2003,"y":69,"r":-15},{"x":2003,"y":68,"r":-14},{"x":2003,"y":67,"r":-12},{"x":2003,"y":66,"r":-12},{"x":2003,"y":65,"r":-10},{"x":2003,"y":64,"r":-8},{"x":2003,"y":63,"r":-6},{"x":2003,"y":62,"r":-4},{"x":2003,"y":61,"r":3},{"x":2003,"y":60,"r":3},
{"x":2003,"y":59,"r":-1},{"x":2003,"y":58,"r":-1},{"x":2003,"y":57,"r":-1},{"x":2003,"y":56,"r":-1},{"x":2003,"y":55,"r":-1},{"x":2003,"y":54,"r":-1},{"x":2003,"y":53,"r":-1},{"x":2003,"y":52,"r":-1},{"x":2003,"y":51,"r":-1},{"x":2003,"y":50,"r":-1},{"x":2003,"y":49,"r":-1},{"x":2003,"y":48,"r":-1},{"x":2003,"y":47,"r":-1},{"x":2003,"y":46,"r":-1},{"x":2003,"y":45,"r":-1},{"x":2003,"y":44,"r":-1},{"x":2003,"y":43,"r":-1},{"x":2003,"y":42,"r":-1},{"x":2003,"y":41,"r":-1},{"x":2003,"y":40,"r":-1},{"x":2003,"y":39,"r":-1},{"x":2003,"y":38,"r":-1},{"x":2003,"y":37,"r":-1},{"x":2003,"y":36,"r":-1},{"x":2003,"y":35,"r":-1},{"x":2003,"y":34,"r":-1},{"x":2003,"y":33,"r":-1},{"x":2003,"y":32,"r":-1},{"x":2003,"y":31,"r":-1},{"x":2003,"y":30,"r":-1},{"x":2003,"y":29,"r":-1},{"x":2003,"y":28,"r":-1},{"x":2003,"y":27,"r":3},{"x":2003,"y":26,"r":3},

{"x":2004,"y":140,"r":2},{"x":2004,"y":136,"r":2},{"x":2004,"y":132,"r":2},{"x":2004,"y":128,"r":2},{"x":2004,"y":124,"r":2},{"x":2004,"y":120,"r":2},{"x":2004,"y":116,"r":2},{"x":2004,"y":112,"r":2},{"x":2004,"y":108,"r":13},{"x":2004,"y":104,"r":10},{"x":2004,"y":100,"r":13},
{"x":2004,"y":98,"r":8},{"x":2004,"y":96,"r":8},{"x":2004,"y":94,"r":13},{"x":2004,"y":92,"r":13},
{"x":2004,"y":90,"r":-3},{"x":2004,"y":89,"r":-8},{"x":2004,"y":88,"r":-12},{"x":2004,"y":87,"r":-12},{"x":2004,"y":86,"r":-12},{"x":2004,"y":85,"r":-12},{"x":2004,"y":84,"r":-12},{"x":2004,"y":83,"r":-12},{"x":2004,"y":82,"r":-10},{"x":2004,"y":81,"r":-6},{"x":2004,"y":80,"r":8},{"x":2004,"y":79,"r":26},{"x":2004,"y":78,"r":45},{"x":2004,"y":77,"r":52},{"x":2004,"y":76,"r":52},{"x":2004,"y":75,"r":40},{"x":2004,"y":74,"r":19},{"x":2004,"y":73,"r":6},{"x":2004,"y":72,"r":-8},{"x":2004,"y":71,"r":-12},{"x":2004,"y":70,"r":-12},{"x":2004,"y":69,"r":-12},{"x":2004,"y":68,"r":-12},{"x":2004,"y":67,"r":-12},{"x":2004,"y":66,"r":-12},{"x":2004,"y":65,"r":-10},{"x":2004,"y":64,"r":-8},{"x":2004,"y":63,"r":-6},{"x":2004,"y":62,"r":3},{"x":2004,"y":61,"r":3},
{"x":2004,"y":60,"r":-1},{"x":2004,"y":59,"r":-1},{"x":2004,"y":58,"r":-1},{"x":2004,"y":57,"r":-1},{"x":2004,"y":56,"r":-1},{"x":2004,"y":55,"r":-1},{"x":2004,"y":54,"r":-1},{"x":2004,"y":53,"r":-1},{"x":2004,"y":52,"r":-1},{"x":2004,"y":51,"r":-1},{"x":2004,"y":50,"r":-1},{"x":2004,"y":49,"r":-1},{"x":2004,"y":48,"r":-1},{"x":2004,"y":47,"r":-1},{"x":2004,"y":46,"r":-1},{"x":2004,"y":45,"r":-1},{"x":2004,"y":44,"r":-1},{"x":2004,"y":43,"r":-1},{"x":2004,"y":42,"r":-1},{"x":2004,"y":41,"r":-1},{"x":2004,"y":40,"r":-1},{"x":2004,"y":39,"r":-1},{"x":2004,"y":38,"r":-1},{"x":2004,"y":37,"r":-1},{"x":2004,"y":36,"r":-1},{"x":2004,"y":35,"r":-1},{"x":2004,"y":34,"r":-1},{"x":2004,"y":33,"r":-1},{"x":2004,"y":32,"r":-1},{"x":2004,"y":31,"r":-1},{"x":2004,"y":30,"r":-1},{"x":2004,"y":29,"r":-1},{"x":2004,"y":28,"r":-1},{"x":2004,"y":27,"r":3},{"x":2004,"y":26,"r":3},

{"x":2005,"y":140,"r":2},{"x":2005,"y":136,"r":2},{"x":2005,"y":132,"r":2},{"x":2005,"y":128,"r":2},{"x":2005,"y":124,"r":2},{"x":2005,"y":120,"r":2},{"x":2005,"y":116,"r":2},{"x":2005,"y":112,"r":2},{"x":2005,"y":108,"r":2},{"x":2005,"y":104,"r":4},{"x":2005,"y":100,"r":4},
{"x":2005,"y":98,"r":-3},{"x":2005,"y":96,"r":-8},{"x":2005,"y":94,"r":-8},{"x":2005,"y":92,"r":-3},
{"x":2005,"y":90,"r":8},{"x":2005,"y":89,"r":-8},{"x":2005,"y":88,"r":-12},{"x":2005,"y":87,"r":-12},{"x":2005,"y":86,"r":-12},{"x":2005,"y":85,"r":-12},{"x":2005,"y":84,"r":-12},{"x":2005,"y":83,"r":-12},{"x":2005,"y":82,"r":-10},{"x":2005,"y":81,"r":6},{"x":2005,"y":80,"r":26},{"x":2005,"y":79,"r":45},{"x":2005,"y":78,"r":52},{"x":2005,"y":77,"r":52},{"x":2005,"y":76,"r":40},{"x":2005,"y":75,"r":19},{"x":2005,"y":74,"r":-8},{"x":2005,"y":73,"r":-12},{"x":2005,"y":72,"r":-12},{"x":2005,"y":71,"r":-12},{"x":2005,"y":70,"r":-12},{"x":2005,"y":69,"r":-12},{"x":2005,"y":68,"r":-12},{"x":2005,"y":67,"r":-10},{"x":2005,"y":66,"r":-8},{"x":2005,"y":65,"r":-6},{"x":2005,"y":64,"r":8},{"x":2005,"y":63,"r":19},{"x":2005,"y":62,"r":30},{"x":2005,"y":61,"r":34},{"x":2005,"y":60,"r":34},{"x":2005,"y":59,"r":30},{"x":2005,"y":58,"r":26},{"x":2005,"y":57,"r":19},{"x":2005,"y":56,"r":8},{"x":2005,"y":55,"r":3},{"x":2005,"y":54,"r":3},
{"x":2005,"y":53,"r":-1},{"x":2005,"y":52,"r":-1},{"x":2005,"y":51,"r":-1},{"x":2005,"y":50,"r":-1},{"x":2005,"y":49,"r":-1},{"x":2005,"y":48,"r":-1},{"x":2005,"y":47,"r":-1},{"x":2005,"y":46,"r":-1},{"x":2005,"y":45,"r":-1},{"x":2005,"y":44,"r":-1},{"x":2005,"y":43,"r":-1},{"x":2005,"y":42,"r":-1},{"x":2005,"y":41,"r":-1},{"x":2005,"y":40,"r":-1},{"x":2005,"y":39,"r":-1},{"x":2005,"y":38,"r":-1},{"x":2005,"y":37,"r":-1},{"x":2005,"y":36,"r":-1},{"x":2005,"y":35,"r":-1},{"x":2005,"y":34,"r":-1},{"x":2005,"y":33,"r":-1},{"x":2005,"y":32,"r":-1},{"x":2005,"y":31,"r":-1},{"x":2005,"y":30,"r":-1},{"x":2005,"y":29,"r":-1},{"x":2005,"y":28,"r":-1},{"x":2005,"y":27,"r":3},{"x":2005,"y":26,"r":3},

{"x":2006,"y":140,"r":2},{"x":2006,"y":136,"r":2},{"x":2006,"y":132,"r":2},{"x":2006,"y":128,"r":2},{"x":2006,"y":124,"r":2},{"x":2006,"y":120,"r":2},{"x":2006,"y":116,"r":2},{"x":2006,"y":112,"r":2},{"x":2006,"y":108,"r":2},{"x":2006,"y":104,"r":2},{"x":2006,"y":100,"r":2},
{"x":2006,"y":98,"r":2},{"x":2006,"y":96,"r":-3},{"x":2006,"y":94,"r":-8},{"x":2006,"y":92,"r":-8},
{"x":2006,"y":90,"r":-12},{"x":2006,"y":89,"r":-14},{"x":2006,"y":88,"r":-14},{"x":2006,"y":87,"r":-14},{"x":2006,"y":86,"r":-14},{"x":2006,"y":85,"r":-14},{"x":2006,"y":84,"r":-14},{"x":2006,"y":83,"r":-14},{"x":2006,"y":82,"r":-14},{"x":2006,"y":81,"r":-14},{"x":2006,"y":80,"r":-14},{"x":2006,"y":79,"r":-14},{"x":2006,"y":78,"r":-14},{"x":2006,"y":77,"r":-14},{"x":2006,"y":76,"r":-12},{"x":2006,"y":75,"r":-12},{"x":2006,"y":74,"r":-10},{"x":2006,"y":73,"r":8},{"x":2006,"y":72,"r":34},{"x":2006,"y":71,"r":60},{"x":2006,"y":70,"r":80},{"x":2006,"y":69,"r":90},{"x":2006,"y":68,"r":90},{"x":2006,"y":67,"r":90},{"x":2006,"y":66,"r":90},{"x":2006,"y":65,"r":85},{"x":2006,"y":64,"r":76},{"x":2006,"y":63,"r":60},{"x":2006,"y":62,"r":40},{"x":2006,"y":61,"r":19},{"x":2006,"y":60,"r":6},{"x":2006,"y":59,"r":3},{"x":2006,"y":58,"r":3},{"x":2006,"y":57,"r":2},{"x":2006,"y":56,"r":3},{"x":2006,"y":55,"r":3},{"x":2006,"y":54,"r":6},{"x":2006,"y":53,"r":19},{"x":2006,"y":52,"r":30},{"x":2006,"y":51,"r":34},{"x":2006,"y":50,"r":30},{"x":2006,"y":49,"r":19},{"x":2006,"y":48,"r":4},
{"x":2006,"y":47,"r":-1},{"x":2006,"y":46,"r":-1},{"x":2006,"y":45,"r":-1},{"x":2006,"y":44,"r":-1},{"x":2006,"y":43,"r":-1},{"x":2006,"y":42,"r":-1},{"x":2006,"y":41,"r":-1},{"x":2006,"y":40,"r":-1},{"x":2006,"y":39,"r":-1},{"x":2006,"y":38,"r":-1},{"x":2006,"y":37,"r":-1},{"x":2006,"y":36,"r":-1},{"x":2006,"y":35,"r":-1},{"x":2006,"y":34,"r":-1},{"x":2006,"y":33,"r":-1},{"x":2006,"y":32,"r":-1},{"x":2006,"y":31,"r":-1},{"x":2006,"y":30,"r":-1},{"x":2006,"y":29,"r":-1},{"x":2006,"y":28,"r":-1},{"x":2006,"y":27,"r":3},{"x":2006,"y":26,"r":3},

{"x":2007,"y":140,"r":2},{"x":2007,"y":136,"r":2},{"x":2007,"y":132,"r":2},{"x":2007,"y":128,"r":2},{"x":2007,"y":124,"r":2},{"x":2007,"y":120,"r":2},{"x":2007,"y":116,"r":2},{"x":2007,"y":112,"r":2},{"x":2007,"y":108,"r":2},{"x":2007,"y":104,"r":3},{"x":2007,"y":100,"r":2},
{"x":2007,"y":98,"r":2},{"x":2007,"y":96,"r":-3},{"x":2007,"y":94,"r":-3},{"x":2007,"y":92,"r":-6},
{"x":2007,"y":90,"r":-8},{"x":2007,"y":89,"r":-14},{"x":2007,"y":88,"r":-14},{"x":2007,"y":87,"r":-14},{"x":2007,"y":86,"r":-14},{"x":2007,"y":85,"r":-14},{"x":2007,"y":84,"r":-14},{"x":2007,"y":83,"r":-12},{"x":2007,"y":82,"r":-10},{"x":2007,"y":81,"r":6},{"x":2007,"y":80,"r":13},{"x":2007,"y":79,"r":19},{"x":2007,"y":78,"r":19},{"x":2007,"y":77,"r":13},{"x":2007,"y":76,"r":4},{"x":2007,"y":75,"r":-3},{"x":2007,"y":74,"r":-6},{"x":2007,"y":73,"r":-6},{"x":2007,"y":72,"r":-8},{"x":2007,"y":71,"r":-8},{"x":2007,"y":70,"r":-6},{"x":2007,"y":69,"r":-6},{"x":2007,"y":68,"r":-3},{"x":2007,"y":67,"r":-3},{"x":2007,"y":66,"r":-3},{"x":2007,"y":65,"r":3},{"x":2007,"y":64,"r":8},{"x":2007,"y":63,"r":13},{"x":2007,"y":62,"r":19},{"x":2007,"y":61,"r":19},{"x":2007,"y":60,"r":19},{"x":2007,"y":59,"r":19},{"x":2007,"y":58,"r":13},{"x":2007,"y":57,"r":13},{"x":2007,"y":56,"r":8},{"x":2007,"y":55,"r":4},{"x":2007,"y":54,"r":3},
{"x":2007,"y":53,"r":-1},{"x":2007,"y":52,"r":-1},{"x":2007,"y":51,"r":-1},{"x":2007,"y":50,"r":-1},{"x":2007,"y":49,"r":-1},{"x":2007,"y":48,"r":-1},{"x":2007,"y":47,"r":-1},{"x":2007,"y":46,"r":-1},{"x":2007,"y":45,"r":-1},{"x":2007,"y":44,"r":-1},{"x":2007,"y":43,"r":-1},{"x":2007,"y":42,"r":-1},{"x":2007,"y":41,"r":-1},{"x":2007,"y":40,"r":-1},{"x":2007,"y":39,"r":-1},{"x":2007,"y":38,"r":-1},{"x":2007,"y":37,"r":-1},{"x":2007,"y":36,"r":-1},{"x":2007,"y":35,"r":-1},{"x":2007,"y":34,"r":-1},{"x":2007,"y":33,"r":-1},{"x":2007,"y":32,"r":-1},{"x":2007,"y":31,"r":-1},{"x":2007,"y":30,"r":-1},{"x":2007,"y":29,"r":-1},{"x":2007,"y":28,"r":-1},{"x":2007,"y":27,"r":3},{"x":2007,"y":26,"r":3},

{"x":2008,"y":140,"r":2},{"x":2008,"y":136,"r":2},{"x":2008,"y":132,"r":2},{"x":2008,"y":128,"r":2},{"x":2008,"y":124,"r":2},{"x":2008,"y":120,"r":2},{"x":2008,"y":116,"r":6},{"x":2008,"y":112,"r":42},{"x":2008,"y":108,"r":40},{"x":2008,"y":104,"r":34},{"x":2008,"y":100,"r":19},
{"x":2008,"y":98,"r":8},{"x":2008,"y":96,"r":-3},{"x":2008,"y":94,"r":-3},{"x":2008,"y":92,"r":-8},
{"x":2008,"y":90,"r":-12},{"x":2008,"y":89,"r":-12},{"x":2008,"y":88,"r":-12},{"x":2008,"y":87,"r":-12},{"x":2008,"y":86,"r":-10},{"x":2008,"y":85,"r":8},{"x":2008,"y":84,"r":13},{"x":2008,"y":83,"r":8},{"x":2008,"y":82,"r":-12},{"x":2008,"y":81,"r":-12},{"x":2008,"y":80,"r":-12},{"x":2008,"y":79,"r":-12},{"x":2008,"y":78,"r":-10},{"x":2008,"y":77,"r":-6},{"x":2008,"y":76,"r":-3},{"x":2008,"y":75,"r":4},{"x":2008,"y":74,"r":19},{"x":2008,"y":73,"r":30},{"x":2008,"y":72,"r":34},{"x":2008,"y":71,"r":34},{"x":2008,"y":70,"r":30},{"x":2008,"y":69,"r":19},{"x":2008,"y":68,"r":6},{"x":2008,"y":67,"r":-6},{"x":2008,"y":66,"r":-8},{"x":2008,"y":65,"r":-6},{"x":2008,"y":64,"r":-3},{"x":2008,"y":63,"r":4},{"x":2008,"y":62,"r":13},{"x":2008,"y":61,"r":26},{"x":2008,"y":60,"r":34},{"x":2008,"y":59,"r":34},{"x":2008,"y":58,"r":30},{"x":2008,"y":57,"r":19},{"x":2008,"y":56,"r":8},{"x":2008,"y":55,"r":3},
{"x":2008,"y":54,"r":-1},{"x":2008,"y":53,"r":-1},{"x":2008,"y":52,"r":-1},{"x":2008,"y":51,"r":-1},{"x":2008,"y":50,"r":-1},{"x":2008,"y":49,"r":-1},{"x":2008,"y":48,"r":-1},{"x":2008,"y":47,"r":-1},{"x":2008,"y":46,"r":-1},{"x":2008,"y":45,"r":-1},{"x":2008,"y":44,"r":-1},{"x":2008,"y":43,"r":-1},{"x":2008,"y":42,"r":-1},{"x":2008,"y":41,"r":-1},{"x":2008,"y":40,"r":-1},{"x":2008,"y":39,"r":-1},{"x":2008,"y":38,"r":-1},{"x":2008,"y":37,"r":-1},{"x":2008,"y":36,"r":-1},{"x":2008,"y":35,"r":-1},{"x":2008,"y":34,"r":-1},{"x":2008,"y":33,"r":-1},{"x":2008,"y":32,"r":-1},{"x":2008,"y":31,"r":-1},{"x":2008,"y":30,"r":-1},{"x":2008,"y":29,"r":-1},{"x":2008,"y":28,"r":-1},{"x":2008,"y":27,"r":3},{"x":2008,"y":26,"r":3},

{"x":2009,"y":140,"r":2},{"x":2009,"y":136,"r":2},{"x":2009,"y":132,"r":2},{"x":2009,"y":128,"r":2},{"x":2009,"y":124,"r":2},{"x":2009,"y":120,"r":2},{"x":2009,"y":116,"r":2},{"x":2009,"y":112,"r":2},{"x":2009,"y":108,"r":3},{"x":2009,"y":104,"r":8},{"x":2009,"y":100,"r":8},
{"x":2009,"y":98,"r":-6},{"x":2009,"y":96,"r":-8},{"x":2009,"y":94,"r":-8},{"x":2009,"y":92,"r":-12},
{"x":2009,"y":90,"r":-18},{"x":2009,"y":89,"r":-18},{"x":2009,"y":88,"r":-18},{"x":2009,"y":87,"r":-15},{"x":2009,"y":86,"r":-12},{"x":2009,"y":85,"r":8},{"x":2009,"y":84,"r":19},{"x":2009,"y":83,"r":30},{"x":2009,"y":82,"r":34},{"x":2009,"y":81,"r":34},{"x":2009,"y":80,"r":30},{"x":2009,"y":79,"r":19},{"x":2009,"y":78,"r":6},{"x":2009,"y":77,"r":-8},{"x":2009,"y":76,"r":-12},{"x":2009,"y":75,"r":-12},{"x":2009,"y":74,"r":-12},{"x":2009,"y":73,"r":-12},{"x":2009,"y":72,"r":-12},{"x":2009,"y":71,"r":-12},{"x":2009,"y":70,"r":-12},{"x":2009,"y":69,"r":-12},{"x":2009,"y":68,"r":-10},{"x":2009,"y":67,"r":-10},{"x":2009,"y":66,"r":-8},{"x":2009,"y":65,"r":-6},{"x":2009,"y":64,"r":-4},{"x":2009,"y":63,"r":-3},{"x":2009,"y":62,"r":-3},
{"x":2009,"y":61,"r":-1},{"x":2009,"y":60,"r":-1},{"x":2009,"y":59,"r":-1},{"x":2009,"y":58,"r":-1},{"x":2009,"y":57,"r":-1},{"x":2009,"y":56,"r":-1},{"x":2009,"y":55,"r":-1},{"x":2009,"y":54,"r":-1},{"x":2009,"y":53,"r":-1},{"x":2009,"y":52,"r":-1},{"x":2009,"y":51,"r":-1},{"x":2009,"y":50,"r":-1},{"x":2009,"y":49,"r":-1},{"x":2009,"y":48,"r":-1},{"x":2009,"y":47,"r":-1},{"x":2009,"y":46,"r":-1},{"x":2009,"y":45,"r":-1},{"x":2009,"y":44,"r":-1},{"x":2009,"y":43,"r":-1},{"x":2009,"y":42,"r":-1},{"x":2009,"y":41,"r":-1},{"x":2009,"y":40,"r":-1},{"x":2009,"y":39,"r":-1},{"x":2009,"y":38,"r":-1},{"x":2009,"y":37,"r":-1},{"x":2009,"y":36,"r":-1},{"x":2009,"y":35,"r":-1},{"x":2009,"y":34,"r":-1},{"x":2009,"y":33,"r":-1},{"x":2009,"y":32,"r":-1},{"x":2009,"y":31,"r":-1},{"x":2009,"y":30,"r":-1},{"x":2009,"y":29,"r":-1},{"x":2009,"y":28,"r":-1},{"x":2009,"y":27,"r":3},{"x":2009,"y":26,"r":3}
]},
"encoding": {
 "x": {"field": "x", "type": "quantitative", "scale": {"domain": [1964.28, 2010.72], "nice": false, "zero": false},
  "axis": {"title": "Year", "values": [1966,1967,1968,1969,1970,1979,1980,1983,1987,1989,1993,1995,1996,1997,1998,1999,2000,2001,2002,2003,2004,2005,2006,2007,2008,2009], "format": "d", "tickSize": 9, "labelPadding": 12, "labelOverlap": false, "labelFlush": false, "labelExpr": "indexof([1966,1979,1987,1993,1998,2003,2008], datum.value) >= 0 ? datum.label : ''", "titlePadding": 23}},
 "y": {"field": "y", "type": "quantitative", "scale": {"domain": [21.44, 144.56], "nice": false, "zero": false},
  "axis": {"title": "Length (cm)", "values": [40,60,80,100,120,140], "tickSize": 8, "labelPadding": 10, "titlePadding": 12}}
},
"layer": [
 {"transform": [{"filter": "datum.r < 0"}],
  "mark": {"type": "point", "shape": "circle", "filled": false, "stroke": "#0000ff", "strokeWidth": 1, "opacity": 1},
  "encoding": {"size": {"field": "r", "type": "quantitative", "scale": {"type": "linear", "domain": [-100, 0], "range": [152, 1.5]}, "legend": null}}},
 {"transform": [{"filter": "datum.r > 0"}],
  "mark": {"type": "point", "shape": "circle", "filled": true, "fill": "#0000ff", "strokeWidth": 0, "opacity": 1},
  "encoding": {"size": {"field": "r", "type": "quantitative", "scale": {"type": "linear", "domain": [0, 100], "range": [1.5, 152]}, "legend": null}}}
],
"resolve": {"scale": {"size": "independent"}}
}
